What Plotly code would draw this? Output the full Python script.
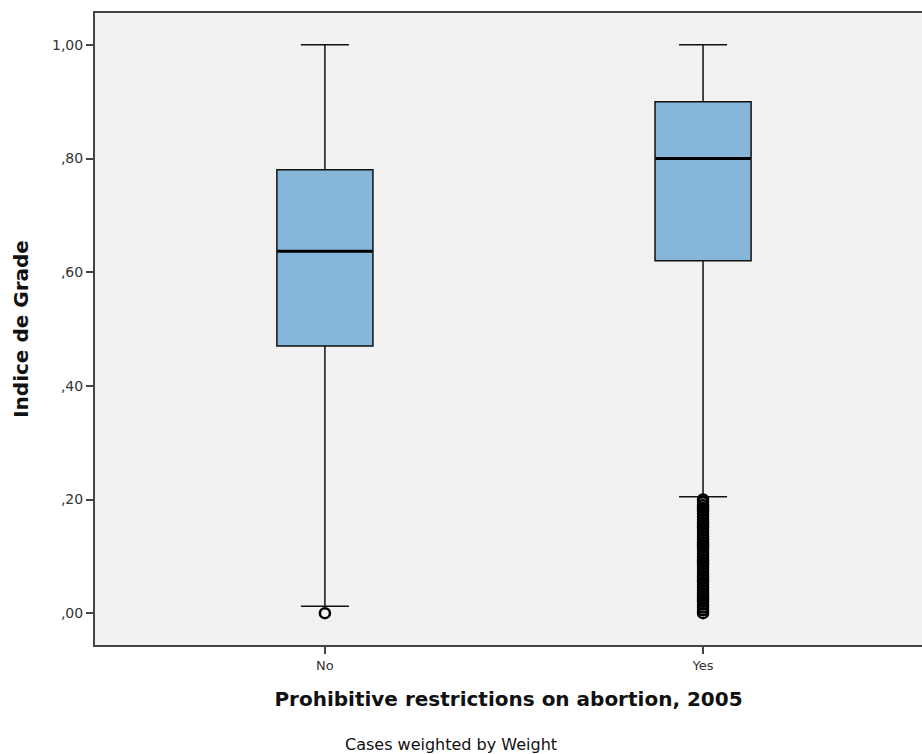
import plotly.graph_objects as go

categories = ["No", "Yes"]
q1 = [0.47, 0.62]
median = [0.637, 0.80]
q3 = [0.78, 0.90]
lower_whisker = [0.012, 0.205]
upper_whisker = [1.00, 1.00]
outliers_no = [0.0]
outliers_yes = [0.0, 0.005, 0.01, 0.015, 0.02, 0.025, 0.03, 0.035, 0.04, 0.045, 0.05,
                0.055, 0.06, 0.065, 0.07, 0.075, 0.08, 0.085, 0.09, 0.095, 0.10,
                0.105, 0.11, 0.115, 0.12, 0.125, 0.13, 0.135, 0.14, 0.145, 0.15,
                0.155, 0.16, 0.165, 0.17, 0.175, 0.18, 0.185, 0.19, 0.195, 0.20]
tick_vals = [0.0, 0.2, 0.4, 0.6, 0.8, 1.0]
tick_text = [",00", ",20", ",40", ",60", ",80", "1,00"]

box_fill = "#86b7db"
fig = go.Figure()
fig.add_trace(go.Box(
    x=categories, q1=q1, median=median, q3=q3,
    lowerfence=lower_whisker, upperfence=upper_whisker,
    fillcolor=box_fill, line=dict(color="#111111", width=1.5),
    width=0.254, whiskerwidth=0.5, boxpoints=False, showlegend=False,
    hoverinfo="skip"))
# thick median lines
fig.add_trace(go.Box(
    x=categories, q1=median, median=median, q3=median,
    lowerfence=median, upperfence=median,
    fillcolor="rgba(0,0,0,0)", line=dict(color="#000000", width=3),
    width=0.25, whiskerwidth=0, boxpoints=False, showlegend=False,
    hoverinfo="skip"))
fig.add_trace(go.Scatter(
    x=["No"] * len(outliers_no), y=outliers_no, mode="markers",
    marker=dict(symbol="circle-open", size=10, color="#000000", line=dict(width=2.5)),
    showlegend=False, hoverinfo="skip"))
fig.add_trace(go.Scatter(
    x=["Yes"] * len(outliers_yes), y=outliers_yes, mode="markers",
    marker=dict(symbol="circle-open", size=10, color="#000000", line=dict(width=2.5)),
    showlegend=False, hoverinfo="skip"))

fig.update_layout(
    width=922, height=754,
    margin=dict(l=95, r=0, t=13, b=109),
    paper_bgcolor="white", plot_bgcolor="#f2f2f2",
    font=dict(family="DejaVu Sans", color="#222222"),
    xaxis=dict(type="category", categoryarray=categories, range=[-0.608, 1.579],
               showline=True, linecolor="#444444", linewidth=2, mirror=True,
               ticks="outside", ticklen=7, tickcolor="#444444", tickwidth=1.5,
               showgrid=False, zeroline=False, tickfont=dict(size=13, color="#333333"),
               title=dict(text="<b>Prohibitive restrictions on abortion, 2005</b>",
                          font=dict(size=20, color="#111111"), standoff=20)),
    yaxis=dict(range=[-0.056, 1.056], tickvals=tick_vals, ticktext=tick_text,
               showline=True, linecolor="#444444", linewidth=2, mirror=False,
               ticks="outside", ticklen=7, tickcolor="#444444", tickwidth=1.5,
               showgrid=False, zeroline=False, tickfont=dict(size=14, color="#333333"),
               title=dict(text="<b>Indice de Grade</b>",
                          font=dict(size=20, color="#111111"), standoff=18)),
    annotations=[dict(text="Cases weighted by Weight", xref="paper", yref="paper",
                      x=0.43, y=-0.157, showarrow=False, xanchor="center",
                      yanchor="middle", font=dict(size=16, color="#111111"))],
)
fig.write_html("out.html", config={"displayModeBar": False},
               post_script="document.body.style.margin='0';document.body.style.overflow='hidden';")
